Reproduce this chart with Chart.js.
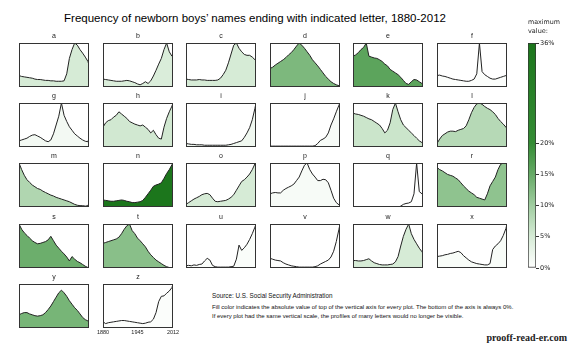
<!DOCTYPE html>
<html>
<head>
<meta charset="utf-8">
<script src="https://cdn.jsdelivr.net/npm/chart.js@4.4.1/dist/chart.umd.min.js"></script>
<style>
  body { margin: 0; background: #fff; }
  #page { position: relative; width: 570px; height: 352px; overflow: hidden; color: #111; font-family: 'Liberation Sans', Arial, sans-serif; }
  #page canvas { position: absolute; }
  #title { position: absolute; left: 0; width: 510px; top: 12px; text-align: center; font-family: 'Liberation Sans', Arial, sans-serif; font-size: 11.5px; white-space: nowrap; color: #000; }
  #notes { position: absolute; left: 212px; top: 291px; font-family: 'Liberation Sans', Arial, sans-serif; font-size: 6px; line-height: 9px; color: #111; white-space: nowrap; }
  #notes .src { margin-bottom: 3px; font-size: 6.3px; }
  #mark { position: absolute; right: 3px; top: 332px; font-family: 'Liberation Serif', serif; font-weight: bold; font-size: 10px; color: #222; }
</style>
</head>
<body>
<div id="page">
  <div id="title">Frequency of newborn boys’ names ending with indicated letter, 1880-2012</div>
  <div id="notes">
    <div class="src">Source: U.S. Social Security Administration</div>
    <div>Fill color indicates the absolute value of top of the vertical axis for every plot. The bottom of the axis is always 0%.</div>
    <div>If every plot had the same vertical scale, the profiles of many letters would no longer be visible.</div>
  </div>
  <div id="mark">prooff-read-er.com</div>
</div>
<script>
// years sampled along each profile
const YEARS = [1880,1885,1890,1895,1900,1905,1910,1915,1920,1925,1930,1935,1940,1945,1950,1955,1960,1965,1970,1975,1980,1985,1990,1995,2000,2005,2010,2012];
const LETTERS = ['a','b','c','d','e','f','g','h','i','j','k','l','m','n','o','p','q','r','s','t','u','v','w','x','y','z'];

// each profile: height as % of that plot's own axis top
const ltrA = [26,24,23,22,21,20,18,17,17,16,15,15,14,14,13,13,13,14,30,65,85,100,95,85,77,68,58,50];
const ltrB = [18,17,16,15,14,13,13,13,14,15,14,12,10,7,5,8,12,8,14,25,38,52,65,85,100,80,70,68];
const ltrC = [18,17,16,16,16,17,16,16,15,15,15,15,16,20,28,38,55,75,95,100,88,80,74,72,72,68,62,60];
const ltrD = [42,45,50,54,58,62,67,73,78,85,93,100,95,88,80,72,62,55,48,40,32,24,18,12,8,5,3,2];
const ltrE = [70,73,78,85,90,100,70,68,66,65,62,58,52,48,40,36,32,28,22,15,8,6,12,17,16,12,8,8];
const ltrF = [26,27,25,24,22,20,18,17,16,15,14,13,13,15,18,30,100,35,28,24,20,18,18,20,22,24,26,28];
const ltrG = [14,16,18,20,24,27,28,25,22,18,14,12,16,30,50,70,100,72,58,46,38,30,25,20,16,13,12,20];
const ltrH = [45,55,60,62,68,72,80,75,70,65,58,55,52,50,48,50,45,40,32,38,28,20,18,45,65,80,93,100];
const ltrI = [8,7,6,6,5,5,5,4,4,4,4,4,4,4,4,4,5,6,8,10,12,14,22,32,44,62,88,100];
const ltrJ = [2,2,2,2,2,2,2,2,2,2,2,2,2,2,2,2,2,3,8,15,18,22,32,50,64,80,95,100];
const ltrK = [77,75,74,72,70,67,64,62,58,54,50,42,32,38,55,85,100,80,62,50,44,38,32,26,20,14,10,8];
const ltrL = [8,18,26,30,34,36,36,35,38,40,42,48,62,78,90,98,100,97,92,88,85,80,74,65,58,52,45,42];
const ltrM = [100,85,72,62,56,50,46,42,40,36,33,30,27,25,22,20,18,16,14,12,9,6,4,3,3,2,3,9];
const ltrN = [16,15,14,13,13,14,15,16,15,13,12,10,10,11,12,15,22,30,38,47,50,52,55,65,76,85,96,100];
const ltrO = [6,10,14,18,21,24,28,30,31,28,20,13,12,13,14,15,18,22,28,38,48,58,62,68,75,85,98,90];
const ltrP = [30,32,33,32,32,38,42,45,48,52,60,68,82,95,100,85,75,68,60,60,63,62,55,38,20,10,5,3];
const ltrQ = [0,0,0,0,0,0,0,0,0,0,0,0,0,0,0,0,0,0,2,6,8,9,12,30,100,35,30,30];
const ltrR = [90,85,82,78,74,72,70,66,62,55,48,42,36,32,28,22,20,18,16,30,48,58,68,85,97,100,99,98];
const ltrS = [100,88,80,74,68,62,58,55,56,58,60,64,72,62,52,45,38,32,25,16,26,20,15,12,8,4,1,0];
const ltrT = [56,58,60,62,64,66,70,78,88,96,100,85,78,68,62,55,48,38,30,24,18,14,10,6,3,1,0,4];
const ltrU = [5,6,5,7,6,8,9,16,22,18,6,3,2,2,2,2,2,3,4,20,52,40,46,54,65,78,93,100];
const ltrV = [22,20,18,17,16,12,9,7,5,4,3,2,2,2,2,2,2,3,5,9,12,15,18,25,38,60,88,100];
const ltrW = [17,17,16,16,17,19,21,16,12,10,8,7,7,7,8,9,14,26,50,72,88,100,78,65,55,45,37,33];
const ltrX = [26,27,28,30,31,33,34,36,38,35,28,23,18,14,12,10,9,8,7,7,10,42,50,55,62,74,90,100];
const ltrY = [30,33,35,35,32,30,28,27,28,30,35,42,50,60,70,80,86,80,72,62,54,46,40,32,24,19,16,15];
const ltrZ = [14,10,12,13,14,15,16,17,17,16,15,14,13,12,11,10,11,13,14,20,35,60,72,73,79,84,92,100];
const SERIES = [ltrA,ltrB,ltrC,ltrD,ltrE,ltrF,ltrG,ltrH,ltrI,ltrJ,ltrK,ltrL,ltrM,ltrN,ltrO,ltrP,ltrQ,ltrR,ltrS,ltrT,ltrU,ltrV,ltrW,ltrX,ltrY,ltrZ];

// value at top of each plot's axis, % of births (sets the fill colour)
const PEAK_PCT = [5,4.5,5,13,16,0.5,1.5,5.5,1.8,1,6,8,8.5,36,5,1,0.1,11.5,14.5,12,0.6,0.3,5,0.8,13.5,0.5];

// colour bar
const SCALE_TICKS = [0,5,10,15,20,36];
const SCALE_COLORS = ['#ffffff','#d6ebd6','#a0cda0','#66aa66','#348c34','#1c761c'];
const SCALE_LABELS = ['0%','5%','10%','15%','20%','36%'];

const X_TICKS = [1880,1945,2012];

// grid of small plots
const COL_X = [19,103,186,270,353,437];
const ROW_Y = [43,103,163,224,284];

const page = document.getElementById('page');

function hexToRgb(h){
  return [parseInt(h.slice(1,3),16),parseInt(h.slice(3,5),16),parseInt(h.slice(5,7),16)];
}
function fillFor(pct){
  let i = 0;
  while (i < SCALE_TICKS.length-2 && pct > SCALE_TICKS[i+1]) i++;
  const t = Math.min(1,(pct-SCALE_TICKS[i])/(SCALE_TICKS[i+1]-SCALE_TICKS[i]));
  const c0 = hexToRgb(SCALE_COLORS[i]), c1 = hexToRgb(SCALE_COLORS[i+1]);
  const c = c0.map((v,k)=>Math.round(v+(c1[k]-v)*t));
  return 'rgb('+c.join(',')+')';
}

const frame = {
  id: 'frame',
  afterDatasetsDraw(chart){
    const {ctx, chartArea: a} = chart;
    ctx.save();
    ctx.strokeStyle = '#333';
    ctx.lineWidth = 1;
    ctx.strokeRect(a.left+0.5, a.top+0.5, a.right-a.left-1, a.bottom-a.top-1);
    ctx.restore();
  }
};

function makeCanvas(left, top, w, h){
  const c = document.createElement('canvas');
  c.width = w; c.height = h;
  c.style.left = left+'px'; c.style.top = top+'px';
  c.style.width = w+'px'; c.style.height = h+'px';
  page.appendChild(c);
  return c;
}

LETTERS.forEach((letter,k)=>{
  const col = k%6, row = Math.floor(k/6);
  const isLast = k===LETTERS.length-1;
  const cv = makeCanvas(COL_X[col]-8, ROW_Y[row]-14, 86, 68);
  new Chart(cv, {
    type: 'line',
    data: {
      datasets: [{
        data: YEARS.map((yr,i)=>({x:yr, y:SERIES[k][i]})),
        borderColor: '#222',
        borderWidth: 1,
        pointRadius: 0,
        tension: 0,
        fill: 'origin',
        backgroundColor: fillFor(PEAK_PCT[k])
      }]
    },
    options: {
      responsive: false,
      animation: false,
      events: [],
      layout: { padding: {left:8,right:8,top:0,bottom:0}, autoPadding: false },
      plugins: {
        legend: { display: false },
        tooltip: { enabled: false },
        title: { display: true, text: letter, color: '#222',
          font: { family: 'Liberation Sans', size: 7, weight: 'normal' },
          padding: { top: 3, bottom: 2.6 } }
      },
      scales: {
        x: {
          type: 'linear', min: 1880, max: 2012,
          afterBuildTicks: s => { s.ticks = X_TICKS.map(v=>({value:v})); },
          afterFit: s => { s.height = 10; },
          grid: { display: false, drawTicks: false },
          border: { display: false },
          ticks: { display: isLast, color: '#222', padding: 1, maxRotation: 0, autoSkip: false,
            font: { family: 'Liberation Sans', size: 5.5 },
            callback: v => String(v) }
        },
        y: { display: false, min: 0, max: 100 }
      }
    },
    plugins: [frame]
  });
});

// colour bar with its "maximum value:" heading
const cb = makeCanvas(527, 17, 33, 256);
new Chart(cb, {
  type: 'bar',
  data: {
    labels: [''],
    datasets: [{
      data: [SCALE_TICKS[SCALE_TICKS.length-1]],
      barPercentage: 1, categoryPercentage: 1,
      borderWidth: 1, borderColor: '#333', borderSkipped: false,
      backgroundColor: ctx => {
        const a = ctx.chart.chartArea;
        if (!a) return SCALE_COLORS[3];
        const g = ctx.chart.ctx.createLinearGradient(0, a.bottom, 0, a.top);
        const top = SCALE_TICKS[SCALE_TICKS.length-1];
        SCALE_TICKS.forEach((v,i)=>g.addColorStop(v/top, SCALE_COLORS[i]));
        return g;
      }
    }]
  },
  options: {
    responsive: false,
    animation: false,
    events: [],
    layout: { padding: {left:1,right:0,top:0,bottom:5}, autoPadding: false },
    plugins: {
      legend: { display: false },
      tooltip: { enabled: false },
      title: { display: true, text: ['maximum','value:'], align: 'start', color: '#222',
        font: { family: 'DejaVu Sans', size: 6.5, weight: 'normal', lineHeight: 9/6.5 },
        padding: { top: 1, bottom: 7 } }
    },
    scales: {
      x: { display: false },
      y: {
        position: 'right', min: 0, max: 36,
        afterBuildTicks: s => { s.ticks = SCALE_TICKS.map(v=>({value:v})); },
        afterFit: s => { s.width = 24; },
        grid: { drawOnChartArea: false, drawTicks: true, tickLength: 3, color: '#333' },
        border: { display: false },
        ticks: { padding: 1, color: '#222', font: { family: 'DejaVu Sans', size: 6.5 },
          callback: (v) => SCALE_LABELS[SCALE_TICKS.indexOf(v)] }
      }
    }
  }
});
</script>
</body>
</html>
